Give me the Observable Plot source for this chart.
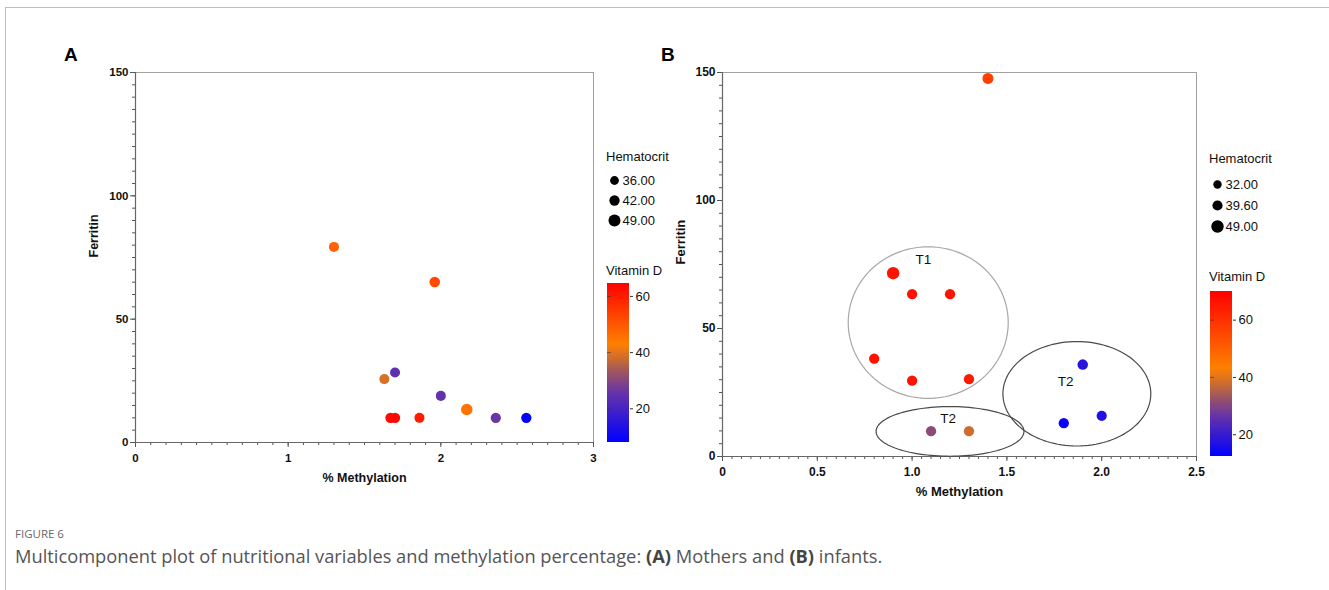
<!DOCTYPE html>
<html>
<head>
<meta charset="utf-8">
<script src="https://cdn.jsdelivr.net/npm/d3@7"></script>
<script src="https://cdn.jsdelivr.net/npm/@observablehq/plot@0.6"></script>
<style>
  body { margin: 0; background: #fff; }
  #root { position: relative; width: 1329px; height: 590px; overflow: hidden; font-family: "Liberation Sans", Arial, sans-serif; background: #fff; }
  .abs { position: absolute; white-space: nowrap; }
  .leg { font-size: 13px; line-height: 13px; color: #111; }
  .letter { font-size: 19px; line-height: 19px; font-weight: bold; color: #000; }
  #border { position: absolute; left: 5px; top: 7px; width: 1330px; height: 600px; border-top: 1.5px solid #bdbdbd; border-left: 1.5px solid #bdbdbd; }
  .fig { font-family: "Open Sans", "Noto Sans", sans-serif; color: #6a6a6a; }
  svg { overflow: visible; }
</style>
</head>
<body>
<div id="root">
  <div id="border"></div>
  <div class="abs letter" style="left:64px;top:45px">A</div>
  <div class="abs letter" style="left:661px;top:45px">B</div>
  <div id="panelA" class="abs" style="left:0;top:0"></div>
  <div id="panelB" class="abs" style="left:600px;top:0"></div>

  <div class="abs leg" style="left:606px;top:150px">Hematocrit</div>
  <div id="sizeA" class="abs" style="left:606px;top:170px"></div>
  <div class="abs leg" style="left:606px;top:264px">Vitamin D</div>
  <div id="barA" class="abs" style="left:606px;top:282px"></div>

  <div class="abs leg" style="left:1209px;top:152px">Hematocrit</div>
  <div id="sizeB" class="abs" style="left:1209px;top:174px"></div>
  <div class="abs leg" style="left:1209px;top:270px">Vitamin D</div>
  <div id="barB" class="abs" style="left:1209px;top:290px"></div>

  <div class="abs fig" style="left:15px;top:526px;font-size:11.5px;letter-spacing:0px">FIGURE 6</div>
  <div class="abs fig" style="left:15px;top:543px;font-size:18.3px;color:#555">Multicomponent plot of nutritional variables and methylation percentage: <b style="color:#444">(A)</b> Mothers and <b style="color:#444">(B)</b> infants.</div>
</div>

<script>
// ---------- Panel A: Mothers ----------
const methylationA = [1.30, 1.96, 1.63, 1.70, 2.00, 2.17, 2.36, 2.56, 1.67, 1.70, 1.86];
const ferritinA    = [79.3, 65.1, 25.7, 28.4, 18.9, 13.4, 10.0, 10.0, 10.0, 10.0, 10.0];
const vitaminDA    = [48,   52,   39,   24,   25,   45,   26,   8,    63,   64,   60];
const hematocritA  = [41,   43,   41,   41,   41,   47,   42,   42,   42,   42,   41];

// ---------- Panel B: Infants ----------
const methylationB = [1.40,  0.90, 1.00, 1.20, 0.80, 1.00, 1.30, 1.90, 2.00, 1.80, 1.10, 1.30];
const ferritinB    = [147.7, 71.6, 63.4, 63.4, 38.2, 29.6, 30.2, 35.9, 15.9, 13.0, 9.9,  9.9];
const vitaminDB    = [57,    66,   66,   66,   66,   66,   65,   18,   17,   14,   31,   38];
const hematocritB  = [43,    49,   40,   40,   40,   40,   40,   41,   39.6, 40,   40,   40];

// Group annotations (ellipses) in panel B
const groupLabels = ["T1", "T2", "T2"];
const groupCx     = [1.085, 1.20, 1.869];
const groupCy     = [52.3,  9.8,  24.5];
const groupRx     = [0.422, 0.39, 0.39];
const groupRy     = [29.6,  9.7,  20.4];
const groupLabelX = [1.06,  1.19, 1.81];
const groupLabelY = [76.7,  14.6, 29.3];
const groupStroke = ["#a8a8a8", "#4a4a4a", "#4a4a4a"];

// Axes ticks and labels
const xTicksA = [0, 1, 2, 3];
const xTickLabelsA = ["0", "1", "2", "3"];
const yTicksA = [0, 50, 100, 150];
const xTicksB = [0, 0.5, 1, 1.5, 2, 2.5];
const xTickLabelsB = ["0", "0.5", "1.0", "1.5", "2.0", "2.5"];
const yTicksB = [0, 50, 100, 150];

// Legends
const sizeLegendA = [36, 42, 49];
const sizeLabelsA = ["36.00", "42.00", "49.00"];
const sizeLegendB = [32, 39.6, 49];
const sizeLabelsB = ["32.00", "39.60", "49.00"];
const colorTicks = [20, 40, 60];
const colorDomainA = [8, 26, 35, 43, 64.6];
const colorDomainB = [12.4, 27, 35, 43, 70];
const colorRange = ["#0000ff", "#6a35a5", "#b0604a", "#ff8000", "#ff0000"];
const rDomainA = [36, 49], rRangeA = [4.4, 6.0];
const rDomainB = [32, 49], rRangeB = [4.2, 6.2];

const FONT = '"Liberation Sans", Arial, sans-serif';

function rows(x, y, c, s) {
  return x.map((v, i) => ({x: v, y: y[i], vit: c[i], hct: s[i]}));
}

function panel(o) {
  const data = rows(o.x, o.y, o.vit, o.hct);
  const marks = [
    Plot.frame({stroke: "#a0a0a0", strokeWidth: 1}),
    Plot.axisX({ticks: o.xMinor, tickSize: 3, tickFormat: () => "", label: null, stroke: "#555"}),
    Plot.axisX({ticks: o.xTicks, tickSize: 5, tickFormat: () => "", label: null, stroke: "#555"}),
    Plot.axisY({ticks: o.yMinor, tickSize: 3, tickFormat: () => "", label: null, stroke: "#555"}),
    Plot.axisY({ticks: o.yTicks, tickSize: 5, tickFormat: () => "", label: null, stroke: "#555"}),
    Plot.text(o.xTicks, {x: d => d, text: d => o.xLabels[o.xTicks.indexOf(d)], frameAnchor: "bottom", lineAnchor: "top", dy: 11,
      fontSize: o.tickFont, fontWeight: "bold", fill: "#111"}),
    Plot.text(o.yTicks, {y: d => d, text: d => String(d), frameAnchor: "left", textAnchor: "end", dx: -7,
      fontSize: o.tickFont, fontWeight: "bold", fill: "#111"}),
    Plot.ruleY([0], {stroke: "#666", strokeWidth: 1.2}),
    Plot.ruleX([0], {stroke: "#666", strokeWidth: 1.2}),
    Plot.text(["% Methylation"], {frameAnchor: "bottom", dy: o.xTitleDy, fontSize: o.titleFont, fontWeight: "bold", fill: "#111"}),
    Plot.text(["Ferritin"], {frameAnchor: "left", dx: -42, rotate: -90, fontSize: o.titleFont, fontWeight: "bold", fill: "#111"}),
    ...(o.extra || []),
    Plot.dot(data, {x: "x", y: "y", r: "hct", fill: "vit", stroke: "none"})
  ];
  return Plot.plot({
    width: o.width, height: o.height,
    marginLeft: o.marginLeft, marginRight: o.marginRight, marginTop: 72, marginBottom: 48,
    x: {domain: o.xDomain}, y: {domain: [0, 150]},
    r: {type: "linear", domain: o.rDomain, range: o.rRange},
    color: {type: "linear", domain: o.colorDomain, range: colorRange},
    style: {background: "transparent", fontFamily: FONT, color: "#111", overflow: "visible"},
    marks
  });
}

// Ellipse outlines for panel B annotations
const angles = d3.range(0, 360, 3);
const ellipseMarks = groupLabels.flatMap((lab, i) => {
  const pts = angles.map(a => ({
    x: groupCx[i] + groupRx[i] * Math.cos(a * Math.PI / 180),
    y: groupCy[i] + groupRy[i] * Math.sin(a * Math.PI / 180)
  }));
  return [
    Plot.line(pts, {x: "x", y: "y", stroke: groupStroke[i], strokeWidth: 1.2, curve: "linear-closed"}),
    Plot.text([lab], {x: () => groupLabelX[i], y: () => groupLabelY[i], fontSize: 13.5, fontWeight: "normal", fill: "#111"})
  ];
});

document.getElementById("panelA").append(panel({
  x: methylationA, y: ferritinA, vit: vitaminDA, hct: hematocritA,
  width: 600, height: 490, marginLeft: 135, marginRight: 7,
  xDomain: [0, 3], xTicks: xTicksA, xLabels: xTickLabelsA, xMinor: d3.range(0, 3.001, 0.1),
  yTicks: yTicksA, yMinor: d3.range(0, 150.1, 5),
  rDomain: rDomainA, rRange: rRangeA, colorDomain: colorDomainA,
  tickFont: 11.5, titleFont: 12.5, xTitleDy: 39
}));

document.getElementById("panelB").append(panel({
  x: methylationB, y: ferritinB, vit: vitaminDB, hct: hematocritB,
  width: 600, height: 504, marginLeft: 122, marginRight: 4,
  xDomain: [0, 2.5], xTicks: xTicksB, xLabels: xTickLabelsB, xMinor: d3.range(0, 2.501, 0.05),
  yTicks: yTicksB, yMinor: d3.range(0, 150.1, 5),
  rDomain: rDomainB, rRange: rRangeB, colorDomain: colorDomainB,
  tickFont: 12, titleFont: 13, xTitleDy: 39, extra: ellipseMarks
}));

function sizeLegend(values, labels, rDomain, rRange, height) {
  return Plot.plot({
    width: 70, height, marginTop: 10, marginBottom: 10, marginLeft: 0, marginRight: 0,
    x: {domain: [0, 1], axis: null},
    y: {type: "point", domain: labels, padding: 0, axis: null},
    r: {type: "linear", domain: rDomain, range: rRange},
    style: {background: "transparent", fontFamily: FONT, overflow: "visible"},
    marks: [
      Plot.dot(values, {y: (d, i) => labels[i], r: d => d, fill: "#000", frameAnchor: "left", dx: 8}),
      Plot.text(labels, {y: d => d, frameAnchor: "left", dx: 16, textAnchor: "start", fontSize: 13, fill: "#111"})
    ]
  });
}

document.getElementById("sizeA").append(sizeLegend(sizeLegendA, sizeLabelsA, rDomainA, rRangeA, 60));
document.getElementById("sizeB").append(sizeLegend(sizeLegendB, sizeLabelsB, rDomainB, rRangeB, 62));

function colorBar(domain, barHeight) {
  const lo = domain[0], hi = domain[domain.length - 1];
  const step = (hi - lo) / 160;
  const ramp = d3.range(lo, hi, step);
  return Plot.plot({
    width: 62, height: barHeight + 2, marginTop: 1, marginBottom: 1, marginLeft: 1, marginRight: 39,
    x: {domain: [0, 1], axis: null},
    y: {domain: [lo, hi], axis: null},
    color: {type: "linear", domain, range: colorRange},
    style: {background: "transparent", fontFamily: FONT, overflow: "visible"},
    marks: [
      Plot.rect(ramp, {x1: 0, x2: 1, y1: d => d, y2: d => Math.min(hi, d + step * 2), fill: d => d + step / 2, shapeRendering: "crispEdges"}),
      Plot.axisY({anchor: "right", ticks: colorTicks, tickSize: 3, tickFormat: () => "", label: null, stroke: "#333"}),
      Plot.axisY({anchor: "left", ticks: colorTicks, tickSize: -4, tickFormat: () => "", label: null, stroke: "#333", strokeOpacity: 0.6}),
      Plot.text(colorTicks, {y: d => d, text: d => String(d), frameAnchor: "right", textAnchor: "start", dx: 6, fontSize: 13, fill: "#111"})
    ]
  });
}

document.getElementById("barA").append(colorBar(colorDomainA, 159));
document.getElementById("barB").append(colorBar(colorDomainB, 165));
</script>
</body>
</html>
